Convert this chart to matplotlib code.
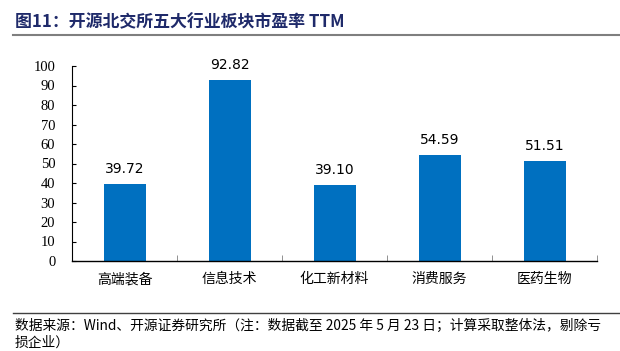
#!/usr/bin/env python
import matplotlib
matplotlib.use("Agg")
import matplotlib.pyplot as plt
from matplotlib.lines import Line2D
import numpy as np

plt.rcParams['font.family'] = ['Noto Sans CJK SC', 'DejaVu Sans']

categories = ['高端装备', '信息技术', '化工新材料', '消费服务', '医药生物']
pe_ttm = [39.72, 92.82, 39.10, 54.59, 51.51]
y_ticks = [0, 10, 20, 30, 40, 50, 60, 70, 80, 90, 100]

title = '图11：开源北交所五大行业板块市盈率 TTM'
source_1 = '数据来源：Wind、开源证券研究所（注：数据截至 2025 年 5 月 23 日；计算采取整体法，剔除亏'
source_2 = '损企业）'

BAR_COLOR = '#0070C0'
TITLE_COLOR = '#1F2A6A'


def main():
    fig = plt.figure(figsize=(6.2, 3.51), dpi=100)
    ax = fig.add_axes([72 / 620, 90 / 351, 525 / 620, 195 / 351])

    x = np.arange(len(categories))
    bars = ax.bar(x, pe_ttm, width=0.4, color=BAR_COLOR, zorder=2)
    for b, v in zip(bars, pe_ttm):
        ax.text(b.get_x() + b.get_width() / 2, v + 4, f'{v:.2f}',
                ha='center', va='bottom', fontsize=10, family='DejaVu Sans')

    ax.set_xlim(-0.5, len(categories) - 0.5)
    ax.set_ylim(0, 100)
    ax.set_yticks(y_ticks)
    ax.set_yticklabels([str(t) for t in y_ticks], family='Liberation Serif', fontsize=10.5)
    ax.tick_params(axis='y', direction='in', length=3, width=0.8, pad=12)

    # category labels via minor ticks, boundaries via major ticks
    ax.set_xticks(np.arange(len(categories) + 1) - 0.5)
    ax.set_xticklabels([])
    ax.set_xticks(x, minor=True)
    ax.set_xticklabels(categories, minor=True, fontsize=10)
    ax.tick_params(axis='x', which='major', direction='in', length=4, width=0.6, colors='#808080')
    ax.tick_params(axis='x', which='minor', length=0, pad=8, labelcolor='black')

    for s in ['top', 'right']:
        ax.spines[s].set_visible(False)
    ax.spines['left'].set_linewidth(0.8)
    ax.spines['bottom'].set_linewidth(1.0)

    fig.text(15 / 620, 1 - 22 / 351, title, fontsize=12.2, fontweight='bold',
             color=TITLE_COLOR, va='center', ha='left',
             family=['Noto Sans CJK SC', 'DejaVu Sans'])
    fig.add_artist(Line2D([13 / 620, 1], [1 - 35 / 351] * 2, color='#7f7f7f', lw=1.5))
    fig.add_artist(Line2D([13 / 620, 1], [1 - 313 / 351] * 2, color='#404040', lw=1.0))
    fig.text(15 / 620, 1 - 326 / 351, source_1, fontsize=9.9, va='center', ha='left')
    fig.text(15 / 620, 1 - 343 / 351, source_2, fontsize=9.9, va='center', ha='left')

    fig.savefig('out.png', dpi=100)


if __name__ == '__main__':
    main()
